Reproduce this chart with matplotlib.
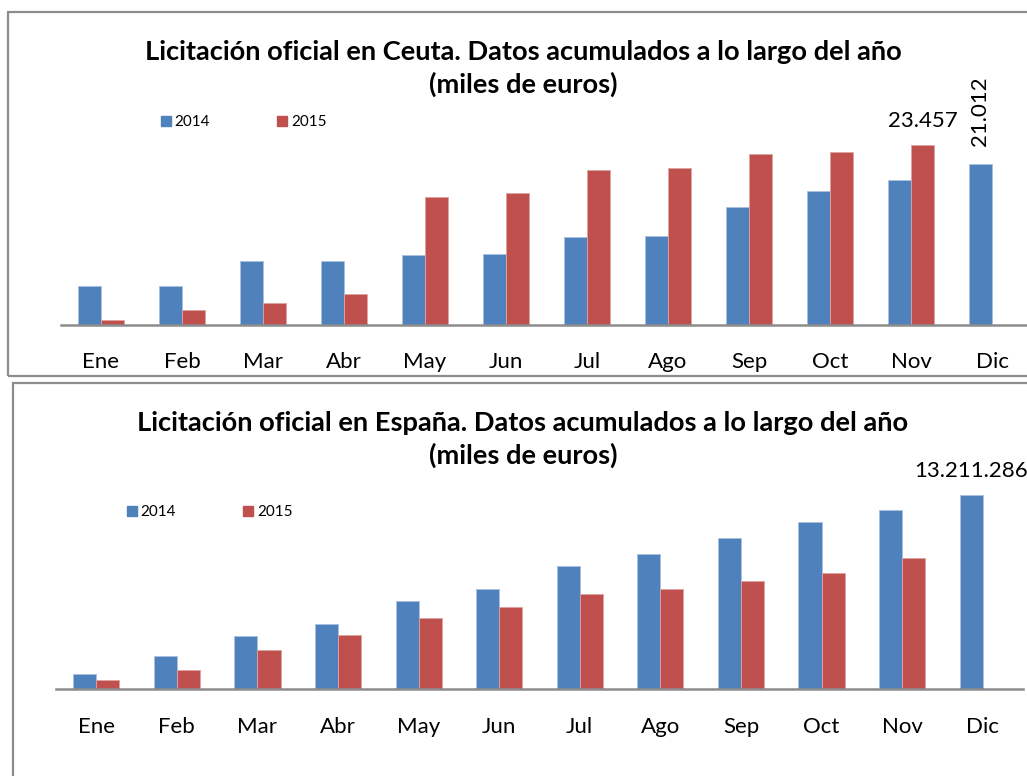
import numpy as np
import matplotlib
matplotlib.use("Agg")
import matplotlib.pyplot as plt
from matplotlib.patches import Rectangle, Patch

plt.rcParams['font.family'] = ['Lato', 'DejaVu Sans']

meses = ['Ene', 'Feb', 'Mar', 'Abr', 'May', 'Jun', 'Jul', 'Ago', 'Sep', 'Oct', 'Nov', 'Dic']

# Ceuta, miles de euros acumulados
ceuta_2014 = [5050, 5050, 8270, 8270, 9140, 9190, 11410, 11580, 15320, 17410, 18850, 21012]
ceuta_2015 = [570, 1920, 2790, 4050, 16630, 17150, 20190, 20490, 22240, 22580, 23457]

# España, miles de euros acumulados
espana_2014 = [1042000, 2247000, 3630000, 4447000, 6013000, 6830000, 8376000,
               9193000, 10283000, 11393000, 12231000, 13211286]
espana_2015 = [633000, 1314000, 2656000, 3698000, 4855000, 5605000, 6469000,
               6830000, 7375000, 7899000, 8941000]

AZUL = '#4F81BD'
ROJO = '#C0504D'
GRIS = '#8C8C8C'

W, H = 1027, 776
fig = plt.figure(figsize=(W / 100, H / 100), dpi=100)


def ejes_px(left, top, right, bottom):
    return fig.add_axes([left / W, 1 - bottom / H, (right - left) / W, (bottom - top) / H])


def marco_px(left, top, right, bottom):
    fig.add_artist(Rectangle((left / W, 1 - bottom / H), (right - left) / W, (bottom - top) / H,
                             transform=fig.transFigure, fill=False, edgecolor=GRIS, lw=1.6,
                             clip_on=False))


def grafico(ax, v14, v15, ymax, etiquetas, titulo, ytit, leg_x, leg_y):
    x = np.arange(len(meses))
    w = 0.286
    ax.bar(x - w / 2, v14, w, color=AZUL, edgecolor='#A9C0DE', linewidth=0.6)
    ax.bar(x[:len(v15)] + w / 2, v15, w, color=ROJO, edgecolor='#DDA3A1', linewidth=0.6)
    ax.set_xlim(-0.5, 11.5)
    ax.set_ylim(0, ymax)
    for s in ['top', 'left', 'right']:
        ax.spines[s].set_visible(False)
    ax.spines['bottom'].set_color(GRIS)
    ax.spines['bottom'].set_linewidth(1.8)
    ax.set_yticks([])
    ax.set_xticks(x)
    ax.set_xticklabels(meses, fontsize=16)
    ax.tick_params(axis='x', length=0, pad=20)
    ax.patch.set_visible(False)
    for (xi, yi, txt, rot) in etiquetas:
        if rot:
            ax.annotate(txt, (xi, yi), xytext=(0, 18), textcoords='offset pixels',
                        ha='center', va='bottom', rotation=90, fontsize=16)
        else:
            ax.annotate(txt, (xi, yi), xytext=(0, 18), textcoords='offset pixels',
                        ha='center', va='baseline', fontsize=16, annotation_clip=False)
    fig.text(523 / W, 1 - ytit / H, titulo, ha='center', va='center', fontsize=19.6,
             fontweight='bold', linespacing=1.35)
    ax.legend(handles=[Patch(color=AZUL, label='2014'), Patch(color=ROJO, label='2015')],
              ncol=2, loc='center left', bbox_to_anchor=(leg_x / W, 1 - leg_y / H),
              bbox_transform=fig.transFigure, frameon=False, fontsize=11,
              handlelength=0.65, handleheight=0.65, handletextpad=0.25,
              columnspacing=4.4, borderpad=0, borderaxespad=0)


marco_px(8, 12, 1040, 376)
marco_px(12.5, 382.5, 1040, 790)

ax1 = ejes_px(60.5, 100, 1032.5, 324.7)
grafico(ax1, ceuta_2014, ceuta_2015, 29320,
        [(10 + 0.143, ceuta_2015[10], '23.457', False),
         (11 - 0.143, ceuta_2014[11], '21.012', True)],
        'Licitación oficial en Ceuta. Datos acumulados a lo largo del año\n(miles de euros)',
        68.5, 161, 122.5)

ax2 = ejes_px(56, 440, 1023, 689.3)
grafico(ax2, espana_2014, espana_2015, 16977000,
        [(11 - 0.143, espana_2014[11], '13.211.286', False)],
        'Licitación oficial en España. Datos acumulados a lo largo del año\n(miles de euros)',
        439.5, 127, 512)

fig.savefig('out.png', dpi=100)
